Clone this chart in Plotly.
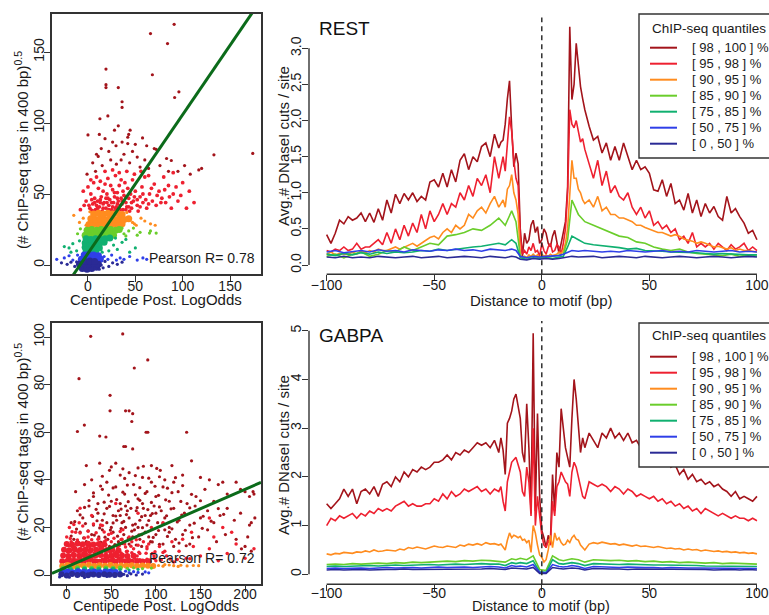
import plotly.graph_objects as go

FONT = "Liberation Sans, Arial, Helvetica, sans-serif"
W, H = 769, 615
TXT = "#1a1a1a"
AX = "#333333"

# ---------------- legend / colours ----------------
QUANT_LABELS = ["[ 98 , 100 ] %", "[ 95 , 98 ] %", "[ 90 , 95 ] %", "[ 85 , 90 ] %",
                "[ 75 , 85 ] %", "[ 50 , 75 ] %", "[ 0 , 50 ] %"]
QUANT_COLORS = ["#A3141B", "#EE2030", "#FF8C1F", "#6ACD2B", "#10B070", "#2F3FE8", "#2A2A95"]
LEGEND_TITLE = "ChIP-seq quantiles"
PANEL_TITLES = ["REST", "GABPA"]
PEARSON = ["Pearson R= 0.78", "Pearson R= 0.72"]

# ---------------- profile x grids ----------------
X_FINE = list(range(-100, -19, 2)) + list(range(-19, 20)) + list(range(20, 101, 2))
X_COARSE = list(range(-100, -19, 4)) + [-17, -14, -12, -10, -7, -4, -1, 2, 5, 8, 10, 12, 14, 17] + list(range(20, 101, 4))

# ---------------- REST profiles ----------------
REST_Q98 = [0.42, 0.30, 0.44, 0.62, 0.57, 0.67, 0.62, 0.65, 0.72, 0.60,
            0.72, 0.59, 0.78, 0.62, 0.90, 0.72, 0.98, 0.85, 0.99, 0.90,
            1.00, 0.88, 0.95, 0.90, 1.15, 1.18, 1.08, 1.27, 1.08, 1.32,
            1.15, 1.45, 1.54, 1.32, 1.50, 1.43, 1.64, 1.69, 1.50, 1.81, 1.62,
            1.70, 1.73, 1.95, 2.30, 2.55, 1.90, 1.36, 1.55, 1.40, 0.50,
            0.12, 0.44, 0.30, 0.35, 0.55, 0.62, 0.45, 0.53, 0.30, 0.35,
            0.50, 0.44, 0.30, 0.25, 0.40, 0.48, 0.30, 0.16, 0.30, 0.48,
            0.60, 1.08, 3.30, 2.29, 2.50, 3.07, 2.80, 2.47, 2.30,
            2.15, 1.92, 1.73, 1.78, 1.55, 1.69, 1.45, 1.64, 1.45, 1.69,
            1.50, 1.32, 1.45, 1.32, 1.36, 1.27, 1.04, 1.02, 1.18, 0.95,
            1.13, 0.85, 0.90, 0.76, 0.99, 0.72, 0.90, 0.67, 0.85, 0.72,
            0.81, 0.67, 0.62, 0.95, 0.72, 0.78, 0.67, 0.58, 0.44, 0.48, 0.35]
REST_Q95 = [0.20, 0.18, 0.22, 0.20, 0.25, 0.20, 0.22, 0.30, 0.22, 0.25,
            0.25, 0.30, 0.35, 0.28, 0.45, 0.30, 0.50, 0.35, 0.55, 0.40,
            0.58, 0.45, 0.70, 0.50, 0.75, 0.60, 0.70, 0.85, 0.70, 0.85,
            0.80, 1.00, 0.90, 1.10, 0.95, 1.20, 1.10, 1.25, 1.00, 1.50, 1.20,
            1.35, 1.50, 1.30, 1.75, 2.05, 1.85, 1.45, 1.20, 1.10, 0.40,
            0.15, 0.20, 0.15, 0.25, 0.20, 0.30, 0.18, 0.20, 0.12, 0.30,
            0.20, 0.15, 0.25, 0.30, 0.18, 0.20, 0.28, 0.25, 0.15, 0.30,
            0.50, 1.00, 2.15, 1.95, 1.90, 2.00, 1.85, 1.70, 1.75,
            1.60, 1.40, 1.20, 1.45, 1.10, 1.30, 1.00, 1.10, 0.95, 0.90,
            1.00, 0.80, 0.70, 0.80, 0.65, 0.75, 0.55, 0.60, 0.50, 0.55,
            0.45, 0.50, 0.35, 0.40, 0.30, 0.45, 0.25, 0.30, 0.25, 0.30,
            0.22, 0.30, 0.25, 0.20, 0.28, 0.22, 0.25, 0.30, 0.20, 0.25, 0.20]
REST_Q90 = [0.15, 0.18, 0.14, 0.16, 0.15, 0.15, 0.18, 0.15, 0.20, 0.17,
            0.20, 0.18, 0.22, 0.20, 0.20, 0.22, 0.25, 0.22, 0.25, 0.28,
            0.30, 0.26, 0.30, 0.35, 0.38, 0.40, 0.36, 0.45, 0.50, 0.45,
            0.55, 0.50, 0.55, 0.70, 0.65, 0.75, 0.80, 0.72, 0.85, 0.95, 0.80,
            0.85, 0.90, 0.80, 1.05, 1.10, 1.25, 1.00, 0.90, 0.70, 0.15,
            0.10, 0.12, 0.10, 0.14, 0.12, 0.15, 0.12, 0.14, 0.10, 0.15,
            0.12, 0.14, 0.12, 0.15, 0.13, 0.14, 0.15, 0.18, 0.16, 0.20,
            0.30, 0.50, 1.00, 1.45, 1.20, 1.20, 1.05, 1.00, 0.90,
            0.85, 0.90, 0.80, 0.95, 0.75, 0.80, 0.70, 0.70, 0.65, 0.65,
            0.62, 0.60, 0.55, 0.55, 0.52, 0.50, 0.48, 0.45, 0.45, 0.42,
            0.40, 0.42, 0.40, 0.36, 0.35, 0.33, 0.30, 0.32, 0.30, 0.28,
            0.25, 0.26, 0.24, 0.22, 0.24, 0.20, 0.22, 0.20, 0.20, 0.19, 0.18]
REST_Q85 = [0.12, 0.15, 0.10, 0.15, 0.18, 0.12, 0.15, 0.20, 0.18, 0.25, 0.20, 0.25, 0.30, 0.28, 0.40, 0.42, 0.45, 0.50, 0.48, 0.55, 0.65,
            0.55, 0.75, 0.60, 0.12, 0.10, 0.12, 0.10, 0.10, 0.12, 0.14, 0.15, 0.35, 0.90, 0.70,
            0.60, 0.55, 0.50, 0.45, 0.40, 0.38, 0.32, 0.30, 0.25, 0.22, 0.20, 0.22, 0.18, 0.16, 0.15, 0.15, 0.13, 0.15, 0.12, 0.14, 0.12]
REST_Q75 = [0.15, 0.13, 0.16, 0.14, 0.17, 0.15, 0.18, 0.16, 0.18, 0.17, 0.18, 0.20, 0.19, 0.22, 0.20, 0.22, 0.24, 0.25, 0.26, 0.28, 0.30,
            0.28, 0.35, 0.30, 0.10, 0.08, 0.10, 0.09, 0.10, 0.09, 0.11, 0.12, 0.25, 0.40, 0.35,
            0.30, 0.28, 0.27, 0.25, 0.24, 0.22, 0.23, 0.20, 0.20, 0.19, 0.18, 0.18, 0.17, 0.17, 0.16, 0.15, 0.16, 0.15, 0.15, 0.14, 0.14]
REST_Q50 = [0.18, 0.20, 0.17, 0.19, 0.20, 0.18, 0.21, 0.19, 0.20, 0.18, 0.21, 0.20, 0.19, 0.21, 0.20, 0.22, 0.20, 0.21, 0.19, 0.22, 0.21,
            0.20, 0.22, 0.20, 0.12, 0.10, 0.12, 0.11, 0.12, 0.12, 0.13, 0.15, 0.18, 0.20, 0.19,
            0.20, 0.19, 0.18, 0.19, 0.18, 0.20, 0.19, 0.18, 0.19, 0.20, 0.18, 0.19, 0.18, 0.20, 0.19, 0.18, 0.19, 0.20, 0.18, 0.19, 0.18]
REST_Q0 = [0.11, 0.10, 0.12, 0.10, 0.11, 0.10, 0.12, 0.11, 0.10, 0.11, 0.12, 0.10, 0.11, 0.12, 0.10, 0.11, 0.12, 0.11, 0.10, 0.12, 0.11,
           0.10, 0.12, 0.11, 0.08, 0.07, 0.09, 0.08, 0.09, 0.08, 0.09, 0.10, 0.11, 0.12, 0.11,
           0.11, 0.12, 0.10, 0.11, 0.12, 0.11, 0.10, 0.12, 0.11, 0.10, 0.11, 0.12, 0.11, 0.10, 0.11, 0.12, 0.11, 0.10, 0.11, 0.12, 0.11]

# ---------------- GABPA profiles ----------------
GABPA_Q98 = [1.45, 1.35, 1.45, 1.55, 1.75, 1.60, 1.75, 1.45, 1.70, 1.75,
             1.65, 1.80, 1.60, 1.85, 1.90, 1.80, 2.00, 1.90, 2.10, 2.00,
             2.15, 2.10, 2.20, 2.15, 2.20, 2.30, 2.30, 2.35, 2.45, 2.35,
             2.50, 2.45, 2.55, 2.50, 2.60, 2.70, 2.65, 2.70, 2.60, 2.75, 2.50,
             2.80, 2.55, 2.05, 3.10, 3.20, 3.35, 3.60, 3.70, 3.40, 3.20,
             2.50, 2.30, 3.50, 2.60, 1.25, 4.95, 1.30, 3.30, 1.60, 0.90,
             0.75, 0.55, 0.80, 0.65, 2.05, 1.30, 2.50, 2.20, 3.40, 3.00,
             2.60, 2.40, 2.20, 3.20, 4.00, 3.60, 3.00, 2.50, 2.80,
             2.60, 2.90, 2.75, 2.60, 2.90, 2.80, 3.00, 2.80, 2.90, 2.75,
             2.90, 2.70, 2.75, 2.60, 2.65, 2.50, 2.45, 2.40, 2.30, 2.35,
             2.20, 2.25, 2.05, 2.15, 1.95, 2.05, 1.90, 1.95, 1.85, 1.90,
             1.80, 1.85, 1.75, 1.70, 1.60, 1.70, 1.55, 1.60, 1.55, 1.50, 1.60]
GABPA_Q95 = [1.00, 1.15, 1.10, 1.20, 1.15, 1.20, 1.25, 1.15, 1.25, 1.20,
             1.30, 1.25, 1.35, 1.30, 1.35, 1.30, 1.40, 1.45, 1.50, 1.40,
             1.45, 1.40, 1.40, 1.45, 1.45, 1.55, 1.50, 1.65, 1.55, 1.70,
             1.60, 1.65, 1.75, 1.70, 1.75, 1.80, 1.70, 1.75, 1.65, 1.75, 1.70,
             1.80, 1.50, 1.30, 1.90, 2.10, 2.30, 2.35, 2.40, 2.25, 2.10,
             1.70, 1.60, 2.20, 1.90, 1.20, 3.00, 1.00, 1.60, 1.20, 0.80,
             0.60, 0.55, 0.70, 0.60, 1.50, 1.20, 1.80, 1.90, 2.10, 2.00,
             1.90, 1.85, 1.60, 2.10, 2.30, 2.20, 2.00, 1.80, 1.60,
             1.55, 1.90, 1.85, 1.80, 1.85, 1.80, 1.70, 1.80, 1.75, 1.65,
             1.75, 1.70, 1.60, 1.65, 1.60, 1.55, 1.60, 1.50, 1.55, 1.45,
             1.50, 1.40, 1.45, 1.35, 1.40, 1.30, 1.35, 1.25, 1.35, 1.30,
             1.25, 1.20, 1.25, 1.20, 1.15, 1.20, 1.15, 1.15, 1.10, 1.15, 1.10]
GABPA_Q90 = [0.42, 0.40, 0.43, 0.42, 0.45, 0.44, 0.43, 0.46, 0.45, 0.48,
             0.46, 0.50, 0.47, 0.48, 0.50, 0.49, 0.48, 0.52, 0.50, 0.55,
             0.53, 0.56, 0.54, 0.52, 0.55, 0.58, 0.56, 0.55, 0.58, 0.57,
             0.55, 0.60, 0.58, 0.62, 0.60, 0.63, 0.60, 0.65, 0.62, 0.63, 0.60,
             0.62, 0.55, 0.50, 0.70, 0.85, 0.75, 0.80, 0.78, 0.75, 0.78,
             0.70, 0.72, 0.65, 0.70, 0.45, 1.00, 0.85, 0.60, 0.40, 0.35,
             0.25, 0.30, 0.50, 0.80, 0.55, 0.85, 0.70, 0.75, 0.65, 0.60,
             0.62, 0.70, 0.65, 0.75, 0.80, 0.72, 0.70, 0.60, 0.55,
             0.50, 0.62, 0.65, 0.63, 0.66, 0.64, 0.62, 0.63, 0.60, 0.62,
             0.60, 0.58, 0.60, 0.57, 0.58, 0.56, 0.55, 0.57, 0.55, 0.53,
             0.54, 0.52, 0.53, 0.50, 0.52, 0.50, 0.51, 0.48, 0.50, 0.48,
             0.47, 0.48, 0.46, 0.47, 0.45, 0.46, 0.44, 0.45, 0.43, 0.44, 0.42]
GABPA_Q85 = [0.20, 0.21, 0.20, 0.22, 0.21, 0.22, 0.23, 0.22, 0.24, 0.23, 0.25, 0.24, 0.25, 0.26, 0.27, 0.26, 0.28, 0.27, 0.29, 0.28, 0.27,
             0.25, 0.32, 0.30, 0.33, 0.30, 0.38, 0.10, 0.08, 0.38, 0.30, 0.28, 0.30, 0.32, 0.30,
             0.25, 0.30, 0.29, 0.28, 0.29, 0.27, 0.28, 0.26, 0.27, 0.25, 0.26, 0.24, 0.25, 0.24, 0.23, 0.24, 0.22, 0.23, 0.22, 0.21, 0.21]
GABPA_Q75 = [0.16, 0.17, 0.16, 0.17, 0.17, 0.18, 0.17, 0.18, 0.19, 0.18, 0.19, 0.19, 0.20, 0.19, 0.20, 0.21, 0.20, 0.21, 0.22, 0.21, 0.21,
             0.18, 0.24, 0.22, 0.24, 0.22, 0.28, 0.05, 0.04, 0.30, 0.22, 0.21, 0.22, 0.24, 0.22,
             0.18, 0.22, 0.21, 0.21, 0.20, 0.21, 0.20, 0.20, 0.19, 0.19, 0.19, 0.18, 0.18, 0.18, 0.17, 0.17, 0.17, 0.16, 0.17, 0.16, 0.16]
GABPA_Q50 = [0.12, 0.13, 0.12, 0.13, 0.13, 0.12, 0.13, 0.14, 0.13, 0.14, 0.14, 0.13, 0.14, 0.15, 0.14, 0.15, 0.15, 0.14, 0.15, 0.16, 0.15,
             0.13, 0.18, 0.16, 0.17, 0.15, 0.20, 0.04, 0.03, 0.20, 0.16, 0.15, 0.16, 0.18, 0.16,
             0.12, 0.16, 0.15, 0.15, 0.14, 0.15, 0.14, 0.14, 0.14, 0.13, 0.14, 0.13, 0.13, 0.13, 0.13, 0.12, 0.13, 0.12, 0.12, 0.12, 0.12]
GABPA_Q0 = [0.09, 0.10, 0.09, 0.10, 0.10, 0.09, 0.10, 0.10, 0.10, 0.11, 0.10, 0.10, 0.11, 0.10, 0.11, 0.11, 0.10, 0.11, 0.11, 0.12, 0.11,
            0.10, 0.13, 0.12, 0.12, 0.11, 0.14, 0.02, 0.02, 0.14, 0.12, 0.11, 0.12, 0.13, 0.12,
            0.09, 0.12, 0.11, 0.11, 0.11, 0.10, 0.11, 0.11, 0.10, 0.10, 0.11, 0.10, 0.10, 0.10, 0.10, 0.09, 0.10, 0.10, 0.09, 0.10, 0.09]

# ---------------- REST scatter (Centipede log-odds vs sqrt ChIP tags) ----------------
REST_FIT = (8.2, 0.977)  # intercept, slope
REST_SC_Q98_X = [91, 66, 84, 19, 68, 19, 19, 32, 96, 91.5, 36, 36, 21, 12.6, 32, 0, 12, 44.5, 43, 42,
                 57.6, 18, 26, 36, 29.6, 42, 9, 10.8, 133, 174, 70, 72, 117, 120, 83, 88, 47, 52, 38, 24,
                 30, 15, 5, 60, 76, 95, 102, 64, 44, 55, 22, -1, 8, 35, 50, 62, 28, 14, 85, 108]
REST_SC_Q98_Y = [169.5, 163, 156, 138, 134, 127, 125, 125, 122, 118, 115, 111, 105, 103, 98, 91.6, 92, 95, 92, 90,
                 89.5, 89, 86.6, 86.6, 84, 85.5, 78, 76.5, 77.6, 78.6, 82, 81.5, 67, 68, 75, 73.6, 80, 76, 78, 74,
                 71, 70, 72, 74, 70, 66, 70, 68, 72, 69, 80, 64, 66, 74, 85, 84, 95, 82, 66, 64]
REST_SC_Q95_X = [2, 5, 8, 10, 12, 14, 15, 17, 19, 20, 22, 23, 25, 26, 27, 28, 30, 31, 32, 33,
                 34, 35, 36, 37, 38, 39, 40, 41, 42, 43, 45, 46, 47, 48, 50, 52, 55, 57, 58, 60,
                 62, 65, 68, 70, 72, 75, 78, 80, 82, 85, 88, 90, 95, 100, -2, -5, 0, 3, 6, 9,
                 11, 13, 16, 18, 21, 24, 29, 35, 3, 7, 11, 24, 29, 37, 44, 53, -8, -4, 18, 26,
                 33, 41, 49, 56, 64, 90, 104, 112, 4, 9, 13, 16, 21, 26, 31, 36, 40, 20, 28, 6,
                 1, 4, 7, 10, 13, 16, 19, 22, 25, 28, 31, 34, 37, 40, 43, 46, 49, 52, 55, 58,
                 61, 64, 67, 73, 77, 81, 86, 93, 98, 107]
REST_SC_Q95_Y = [40, 43, 39, 45, 41, 48, 38, 44, 40, 50, 42, 46, 39, 53, 44, 48, 41, 51, 45, 56,
                 39, 47, 43, 52, 49, 58, 44, 41, 54, 47, 50, 40, 60, 45, 52, 42, 48, 55, 44, 62,
                 40, 50, 45, 57, 42, 52, 47, 62, 44, 56, 40, 50, 45, 58, 45, 52, 55, 50, 58, 62,
                 54, 59, 52, 57, 61, 56, 63, 60, 60, 47, 38, 38, 40, 39, 38, 38, 39, 42, 66, 67,
                 65, 66, 64, 66, 63, 65, 40, 44, 46, 42, 44, 40, 47, 41, 43, 45, 39, 44, 38, 38,
                 42, 38.5, 44, 40, 46, 43, 47, 39, 44, 51, 47, 42, 45, 48, 41, 44, 48, 46, 41, 50,
                 46, 43, 54, 49, 44, 53, 48, 55, 49, 52]
REST_SC_Q90_CORE_X = [1, 6, 11, 16, 21, 26, 31, 36, 3, 8, 13, 18, 23, 28, 33, 38, 43, 6, 11, 16, 21, 26, 31, 36]
REST_SC_Q90_CORE_Y = [28.5, 29, 28.5, 29, 28.5, 29, 28.5, 29, 32.5, 32, 32.5, 32, 32.5, 32, 32.5, 32, 32.5,
                      36, 36.5, 36, 36.5, 36, 36.5, 35.5]
REST_SC_Q90_X = [-15, -9, -5, 47, 51, 56, 60, 66, 71, 2, 41, -2, 49]
REST_SC_Q90_Y = [35, 30, 33, 30, 28, 33, 31, 29, 28, 37.5, 37, 28, 29]
REST_SC_Q85_CORE_X = [-3, 2, 7, 12, 17, 22, 27, -1, 4, 9, 14, 19, 24, 29, 33]
REST_SC_Q85_CORE_Y = [21, 21.5, 21, 21.5, 21, 21.5, 21, 24.5, 25, 24.5, 25, 24.5, 25, 24.5, 25]
REST_SC_Q85_X = [-11, -8, 38, 43, 48, 55, 65, 72, 36, 52, 66, 40]
REST_SC_Q85_Y = [22, 25.5, 22, 24, 26, 23, 22.5, 22.5, 26, 21, 24, 20.5]
REST_SC_Q75_CORE_X = [-2, 3, 8, -3, 2, 7, 12, -3, 2, 7, 12, 17, -2, 3, 8, 13, 18, 23]
REST_SC_Q75_CORE_Y = [9.5, 9, 9.5, 12.5, 12, 12.5, 12, 15.5, 15, 15.5, 15, 16, 18.5, 18, 18.5, 18, 18.5, 19]
REST_SC_Q75_X = [-25, -20, -16, -12, -9, 27, 31, 36, 44, 22, 50, -18, 40, 15, 29]
REST_SC_Q75_Y = [13, 12, 15, 10, 17, 14, 11, 16, 9, 10, 12, 9, 18, 9, 19]
REST_SC_Q50_CORE_X = [-7, -2, 3, 8, 13, -4, 1, 6, 11]
REST_SC_Q50_CORE_Y = [4, 4.5, 4, 4.5, 4, 7, 7.5, 7, 6.5]
REST_SC_Q50_X = [-33, -25, -20, -16, 17, 21, 25, 30, 34, 38, 44, 52, 58, 62, -11, 15]
REST_SC_Q50_Y = [4, 5, 6.5, 3.5, 6, 4, 7, 3.5, 5, 4, 6, 3.5, 5, 4, 7, 5]
REST_SC_Q0_CORE_X = [-6, -1, 4, 9, -9, -4, 1, 6, 11, -3, 2, 7]
REST_SC_Q0_CORE_Y = [-2.5, -3, -2.5, -1.5, 0.5, 1, 0.5, 1, 0.5, 2.5, 2.8, 2.5]
REST_SC_Q0_X = [-28, -22, -18, -14, 14, 18, 22, 26, 31, 36, -12, 16, 12]
REST_SC_Q0_Y = [1.5, 0.5, 2, -1, 0, 2.5, -1, 1.5, 0.5, 2, 2.2, -2, -3]

# ---------------- GABPA scatter ----------------
GABPA_FIT = (3.4, 0.163)
GABPA_SC_Q98_X = [26.9, 62.8, 90.9, 13.8, 75.8, 48.6, 48.6, 66, 70, 74, 73, 19.8, 12, 89, 91, 134.5, 37, 44, 64, 66, 74,
                  37, 22, 55, 80, 95, 105, 118, 140, 150, 160, 170, 175, 190, 48, 60, 85, 110, 130, 28, 70,
                  10, 20, 30, 40, 50, 55, 65, 75, 80, 90, 100, 108, 115, 125, 135, 145, 155, 165, 180, 195,
                  200, 205, 209, 210, 45, 85, 120, 60, 95, 35,
                  5, 12, 18, 25, 30, 35, 40, 45, 50, 52, 58, 62, 66, 70, 74, 78, 82, 86, 90, 94,
                  98, 102, 106, 110, 115, 120, 126, 132, 138, 144, 150, 158, 165, 172, 180, 188, 195, 205, 211, 207,
                  60, 72, 88, 45, 100, 56, 80, 68,
                  8, 15, 22, 28, 34, 40, 46, 52, 58, 64, 70, 76, 82, 88, 94, 100, 108, 115, 122, 130,
                  138, 148, 158, 168, 178, 190, 200, 203, 207, 196, 48, 66, 84, 110, 36, 92, 74, 120,
                  14, 26, 38, 54, 62, 78, 96, 104, 126, 134,
                  5, 19, 31, 43, 57, 69, 81, 97, 113, 141,
                  11, 24, 37, 49, 61, 73, 85, 103, 118, 133, 152,
                  9, 21, 34, 52, 64, 77, 92, 108, 124, 143, 162,
                  15, 29, 42, 55, 67, 84, 96, 112, 129, 153, 176,
                  20, 33, 48, 61, 79, 91, 104, 117, 138, 170,
                  25, 42, 56, 69, 82, 95, 111, 128, 150,
                  30, 47, 63, 77, 88, 103, 118, 140,
                  38, 52, 68, 82, 99, 113, 130,
                  40, 65, 77, 92, 104, 122,
                  50, 63, 86, 101]
GABPA_SC_Q98_Y = [100.3, 101.3, 90.4, 82.5, 87, 75.5, 69, 69, 69, 67.8, 64.5, 63, 60.3, 60, 60, 60, 58.4, 58, 54, 54, 53,
                  47, 46, 47, 45, 46, 44, 46, 48, 41, 40, 38, 39, 39, 44, 42, 41, 40, 42, 40, 43,
                  35, 38, 33, 36, 31, 37, 34, 38, 32, 35, 33, 37, 31, 35, 30, 33, 36, 31, 34, 36,
                  35, 33, 35, 34, 39, 30, 39, 30, 39, 30,
                  22, 27, 24, 29, 21, 26, 23, 28, 20, 25, 27, 22, 29, 24, 21, 27, 23, 28, 21, 25,
                  29, 22, 27, 24, 20, 28, 23, 26, 21, 29, 24, 27, 22, 25, 28, 23, 26, 21, 24, 22,
                  25, 28, 25, 22, 26, 23, 20, 27,
                  15, 18, 14, 17, 13, 19, 15, 18, 14, 17, 13, 19, 15, 18, 14, 17, 13, 18, 15, 17,
                  13, 16, 19, 14, 17, 15, 12, 16, 10, 11, 12, 20, 12, 19, 16, 16, 16, 12,
                  13.5, 12.5, 13.8, 12.8, 13.2, 12.6, 13.9, 12.9, 13.4, 12.3,
                  16.4, 15.6, 16.8, 15.9, 16.3, 15.5, 16.9, 15.8, 16.2, 15.7,
                  19.3, 18.6, 19.8, 18.9, 19.5, 18.4, 19.9, 18.7, 19.4, 18.8, 19.6,
                  22.4, 21.6, 22.8, 21.9, 22.5, 21.4, 22.9, 21.7, 22.3, 21.8, 22.6,
                  25.3, 24.6, 25.7, 24.8, 25.4, 24.5, 25.8, 24.9, 25.2, 24.7, 25.5,
                  28.4, 27.6, 28.8, 27.7, 28.3, 27.5, 28.6, 27.8, 28.2, 27.9,
                  31.3, 30.6, 31.7, 30.8, 31.4, 30.5, 31.6, 30.9, 31.2,
                  34.5, 33.6, 34.8, 33.7, 34.3, 33.5, 34.6, 33.9,
                  37.4, 36.6, 37.8, 36.7, 37.3, 36.5, 37.6,
                  41.5, 40.6, 41.8, 40.7, 41.3, 40.9,
                  45.4, 44.6, 45.7, 44.8]
GABPA_SC_Q95_CORE_X = [-5, 1, 7, 13, 19, 25, 31, 37, 43, 49, 55, 61, 67, 73, 79, 85, 92,
                       -4, 2, 8, 14, 20, 26, 32, 38, 44, 50, 56, 62, 68, 75,
                       -3, 3, 9, 15, 21, 27, 33, 39, 45, 51, 58,
                       0, 6, 12, 18, 24, 30, 36, 42]
GABPA_SC_Q95_CORE_Y = [5.8, 6.0, 5.6, 5.9, 5.7, 6.1, 5.8, 5.6, 6.0, 5.8, 5.7, 6.0, 5.8, 5.6, 5.9, 5.7, 5.8,
                       8.2, 8.0, 8.4, 8.1, 8.3, 8.0, 8.2, 8.4, 8.1, 8.0, 8.3, 8.2, 8.0, 8.1,
                       10.6, 10.4, 10.8, 10.5, 10.7, 10.4, 10.6, 10.8, 10.5, 10.6, 10.4,
                       13.0, 12.8, 13.2, 12.9, 13.1, 12.8, 13.0, 12.9]
GABPA_SC_Q95_X = [0, 3, 6, 10, 14, 18, 24, 28, 32, 38, 42, 47, 53, 57, 63, 68, 73, 79, 84, 90,
                  96, 104, 112, 118, 126, 134, 142, 150, 160, 170, 180, 190, 200, 210, 15, 55, 80, 108, 140, 160,
                  175, 30, 60, 100, 120, 88, 45, 20, 12, 70, 95, 130, 165, 185,
                  5, 16, 22, 35, 40, 50, 58, 65, 75, 82, 92, 98, 110, 26, 48, 62, 86, 8, 34, 52,
                  4, 10, 16, 22, 28, 34, 40, 46, 52, 58, 64, 70, 76, 82, 90, 98, 106, 116, 124, 138,
                  1, 7, 13, 19, 25, 31, 37, 43, 49, 55, 61, 67, 73, 81, 89, 99, 108,
                  2, 9, 16, 23, 30, 37, 44, 51, 59, 66, 72, 80, 90,
                  4, 12, 20, 28, 36, 44, 53, 61, 70, 78,
                  6, 15, 24, 33, 42, 50, 60,
                  8, 18, 30, 40]
GABPA_SC_Q95_Y = [16, 20, 12, 18, 22, 9, 16, 25, 11, 21, 14, 17, 9, 12, 19, 10, 14, 8, 17, 11,
                  9, 12, 8, 14, 10, 7, 12, 8, 11, 6, 9, 13, 7, 11, 28, 30, 26, 22, 18, 24,
                  20, 6, 7, 6, 5.5, 6, 8, 13, 10, 16, 20, 15, 16, 18,
                  14, 11, 9, 15, 12, 14, 10, 13, 11, 9, 13, 8, 10, 12, 10, 15, 14, 7, 8, 7,
                  6.8, 6.3, 7.0, 6.4, 6.9, 6.2, 6.7, 7.1, 6.5, 6.9, 6.3, 6.8, 7.0, 6.4, 6.6, 6.9, 6.3, 6.7, 6.5, 6.8,
                  9.7, 9.2, 9.9, 9.4, 9.8, 9.1, 9.6, 10.0, 9.3, 9.7, 9.2, 9.9, 9.4, 9.6, 9.1, 9.8, 9.5,
                  12.3, 11.8, 12.5, 11.6, 12.2, 11.9, 12.6, 11.7, 12.4, 11.8, 12.1, 12.5, 11.9,
                  15.3, 14.7, 15.5, 14.8, 15.2, 14.6, 15.4, 14.9, 15.1, 14.8,
                  18.2, 17.6, 18.4, 17.8, 18.1, 17.5, 18.3,
                  21.2, 20.6, 21.4, 20.8]
GABPA_SC_Q90_CORE_X = [-5, 1, 7, 13, 19, 25, 31, 37, 43, 49, 55, 61, 67, 73, 79, 85, 91, 97]
GABPA_SC_Q90_CORE_Y = [3.8, 4.2, 3.7, 4.1, 3.9, 4.3, 3.8, 4.1, 3.9, 4.2, 3.8, 4.0, 3.9, 4.1, 3.8, 4.0, 3.9, 3.8]
GABPA_SC_Q90_X = [103, 108, 115, 120, 128, 135, 142, 148, 110, 125]
GABPA_SC_Q90_Y = [4.0, 3.7, 4.2, 3.9, 4.1, 3.8, 4.0, 3.9, 4.4, 3.6]
GABPA_SC_Q85_CORE_X = [-4, 4, 12, 20, 28, 36, 44, 52, 60]
GABPA_SC_Q85_CORE_Y = [2.9, 2.8, 3.0, 2.9, 2.8, 3.0, 2.9, 2.8, 2.9]
GABPA_SC_Q85_X = [68, 75, 85, 95]
GABPA_SC_Q85_Y = [2.8, 3.0, 2.7, 2.9]
GABPA_SC_Q75_CORE_X = [-4, 4, 12, 20, 28, 36, 44, 52]
GABPA_SC_Q75_CORE_Y = [2.2, 2.3, 2.2, 2.4, 2.2, 2.3, 2.2, 2.3]
GABPA_SC_Q75_X = [60, 70, 80]
GABPA_SC_Q75_Y = [2.3, 2.1, 2.4]
GABPA_SC_Q50_CORE_X = [-5, 1, 7, 13, 19, 25, 31, 37, 43, 49, 55]
GABPA_SC_Q50_CORE_Y = [1.3, 1.5, 1.2, 1.6, 1.4, 1.3, 1.5, 1.2, 1.4, 1.5, 1.3]
GABPA_SC_Q50_X = [60, 66, 70, 75, 80, 88, 92]
GABPA_SC_Q50_Y = [1.2, 1.6, 1.0, 1.4, 1.1, 1.3, 0.9]
GABPA_SC_Q0_CORE_X = [-6, 0, 6, 12, 18, 24, 30, 36, 42, 48, 54, 60]
GABPA_SC_Q0_CORE_Y = [0.3, -0.2, 0.4, 0.0, 0.3, -0.1, 0.2, 0.0, 0.3, 0.1, 0.0, 0.2]
GABPA_SC_Q0_X = [64, 68, 72, 78, 85, -8, 20, 45, 3, 27]
GABPA_SC_Q0_Y = [0.3, -0.3, 0.5, 0.0, 0.4, -0.8, -1.0, -0.6, -0.9, 0.8]

# sanity checks
for arr in [REST_Q98, REST_Q95, REST_Q90, GABPA_Q98, GABPA_Q95, GABPA_Q90]:
    assert len(arr) == len(X_FINE), len(arr)
for arr in [REST_Q85, REST_Q75, REST_Q50, REST_Q0, GABPA_Q85, GABPA_Q75, GABPA_Q50, GABPA_Q0]:
    assert len(arr) == len(X_COARSE), len(arr)
pairs = [(REST_SC_Q98_X, REST_SC_Q98_Y), (REST_SC_Q95_X, REST_SC_Q95_Y), (GABPA_SC_Q98_X, GABPA_SC_Q98_Y),
         (GABPA_SC_Q95_X, GABPA_SC_Q95_Y), (GABPA_SC_Q95_CORE_X, GABPA_SC_Q95_CORE_Y),
         (REST_SC_Q90_CORE_X, REST_SC_Q90_CORE_Y), (REST_SC_Q75_CORE_X, REST_SC_Q75_CORE_Y)]
for a, b in pairs:
    assert len(a) == len(b), (len(a), len(b))


def px(x):
    return x / W


def py(y):
    return 1 - y / H


fig = go.Figure()

SPARSE = 3.2
CORE_TOP = 7
CORE_BOT = 6


def add_pts(xs, ys, color, size, xa, ya):
    fig.add_trace(go.Scatter(x=xs, y=ys, mode="markers", xaxis=xa, yaxis=ya,
                             marker=dict(color=color, size=size, line=dict(width=0)),
                             showlegend=False, hoverinfo="skip"))


C = QUANT_COLORS
# REST scatter (x, y)
add_pts(REST_SC_Q98_X, REST_SC_Q98_Y, C[0], SPARSE, "x", "y")
add_pts(REST_SC_Q95_X, REST_SC_Q95_Y, C[1], SPARSE + 0.6, "x", "y")
add_pts(REST_SC_Q90_CORE_X, REST_SC_Q90_CORE_Y, C[2], CORE_TOP, "x", "y")
add_pts(REST_SC_Q90_X, REST_SC_Q90_Y, C[2], SPARSE, "x", "y")
add_pts(REST_SC_Q85_CORE_X, REST_SC_Q85_CORE_Y, C[3], CORE_TOP, "x", "y")
add_pts(REST_SC_Q85_X, REST_SC_Q85_Y, C[3], SPARSE, "x", "y")
add_pts(REST_SC_Q75_CORE_X, REST_SC_Q75_CORE_Y, C[4], CORE_TOP, "x", "y")
add_pts(REST_SC_Q75_X, REST_SC_Q75_Y, C[4], SPARSE, "x", "y")
add_pts(REST_SC_Q50_CORE_X, REST_SC_Q50_CORE_Y, C[5], CORE_TOP, "x", "y")
add_pts(REST_SC_Q50_X, REST_SC_Q50_Y, C[5], SPARSE, "x", "y")
add_pts(REST_SC_Q0_CORE_X, REST_SC_Q0_CORE_Y, C[6], CORE_TOP, "x", "y")
add_pts(REST_SC_Q0_X, REST_SC_Q0_Y, C[6], SPARSE, "x", "y")

# GABPA scatter (x3, y3)
add_pts(GABPA_SC_Q98_X, GABPA_SC_Q98_Y, C[0], SPARSE, "x3", "y3")
add_pts(GABPA_SC_Q95_CORE_X, GABPA_SC_Q95_CORE_Y, C[1], CORE_BOT, "x3", "y3")
add_pts(GABPA_SC_Q95_X, GABPA_SC_Q95_Y, C[1], SPARSE + 0.3, "x3", "y3")
add_pts(GABPA_SC_Q90_CORE_X, GABPA_SC_Q90_CORE_Y, C[2], CORE_BOT, "x3", "y3")
add_pts(GABPA_SC_Q90_X, GABPA_SC_Q90_Y, C[2], SPARSE, "x3", "y3")
add_pts(GABPA_SC_Q85_CORE_X, GABPA_SC_Q85_CORE_Y, C[3], CORE_BOT - 1, "x3", "y3")
add_pts(GABPA_SC_Q85_X, GABPA_SC_Q85_Y, C[3], SPARSE, "x3", "y3")
add_pts(GABPA_SC_Q75_CORE_X, GABPA_SC_Q75_CORE_Y, C[4], CORE_BOT - 1, "x3", "y3")
add_pts(GABPA_SC_Q75_X, GABPA_SC_Q75_Y, C[4], SPARSE, "x3", "y3")
add_pts(GABPA_SC_Q50_CORE_X, GABPA_SC_Q50_CORE_Y, C[5], CORE_BOT, "x3", "y3")
add_pts(GABPA_SC_Q50_X, GABPA_SC_Q50_Y, C[5], SPARSE, "x3", "y3")
add_pts(GABPA_SC_Q0_CORE_X, GABPA_SC_Q0_CORE_Y, C[6], CORE_BOT, "x3", "y3")
add_pts(GABPA_SC_Q0_X, GABPA_SC_Q0_Y, C[6], SPARSE, "x3", "y3")

# regression lines
REST_XRANGE = [-38.0, 182.7]
GABPA_XRANGE = [-16.5, 217.9]
for (a, b), xr, xa, ya in [(REST_FIT, REST_XRANGE, "x", "y"), (GABPA_FIT, GABPA_XRANGE, "x3", "y3")]:
    fig.add_trace(go.Scatter(x=xr, y=[a + b * v for v in xr], mode="lines", xaxis=xa, yaxis=ya,
                             line=dict(color="#0B6B1A", width=3), showlegend=False, hoverinfo="skip"))

# ---------- profile panels ----------
REST_LINES = [REST_Q98, REST_Q95, REST_Q90, REST_Q85, REST_Q75, REST_Q50, REST_Q0]
GABPA_LINES = [GABPA_Q98, GABPA_Q95, GABPA_Q90, GABPA_Q85, GABPA_Q75, GABPA_Q50, GABPA_Q0]
for lines, xa, ya in [(REST_LINES, "x2", "y2"), (GABPA_LINES, "x4", "y4")]:
    for i, vals in enumerate(lines):
        xs = X_FINE if len(vals) == len(X_FINE) else X_COARSE
        fig.add_trace(go.Scatter(x=xs, y=vals, mode="lines", xaxis=xa, yaxis=ya,
                                 line=dict(color=C[i], width=1.6), showlegend=False, hoverinfo="skip"))

# ---------- axes ----------
tickfont = dict(family=FONT, size=14, color=TXT)
common = dict(ticks="outside", ticklen=6, tickwidth=1.3, tickcolor=AX, showgrid=False,
              zeroline=False, tickfont=tickfont)
box = dict(showline=True, mirror=True, linecolor=AX, linewidth=1.5, **common)
open_ax = dict(showline=False, **common)
XSTAND = -8
XSTAND_BOT = -10
YSTAND = -5

SC_X_DOM = [px(52), px(261)]
PR_X_DOM = [px(309), 1.0]

fig.update_layout(
    width=W, height=H, margin=dict(l=0, r=0, t=0, b=0),
    paper_bgcolor="white", plot_bgcolor="white",
    font=dict(family=FONT, color=TXT),
    xaxis=dict(domain=SC_X_DOM, range=REST_XRANGE, anchor="y", tickvals=[0, 50, 100, 150],
               ticklabelstandoff=XSTAND, **box),
    yaxis=dict(domain=[py(274), py(14)], range=[-6.34, 176.8], anchor="x", tickvals=[0, 50, 100, 150],
               tickangle=-90, ticklabelstandoff=YSTAND, **box),
    xaxis3=dict(domain=SC_X_DOM, range=GABPA_XRANGE, anchor="y3", tickvals=[0, 50, 100, 150, 200],
                ticklabelstandoff=XSTAND_BOT, **box),
    yaxis3=dict(domain=[py(584), py(323)], range=[-3.78, 105.9], anchor="x3",
                tickvals=[0, 20, 40, 60, 80, 100], tickangle=-90, ticklabelstandoff=YSTAND, **box),
    xaxis2=dict(domain=PR_X_DOM, range=[-108.2, 105.6], anchor="y2", tickvals=[-100, -50, 0, 50, 100],
                ticklabelstandoff=XSTAND, **open_ax),
    yaxis2=dict(domain=[py(274.3), py(17.4)], range=[-0.1288, 3.428], anchor="x2",
                tickvals=[0, 0.5, 1, 1.5, 2, 2.5, 3], tickformat=".1f", tickangle=-90,
                ticklabelstandoff=YSTAND, **open_ax),
    xaxis4=dict(domain=PR_X_DOM, range=[-108.2, 105.6], anchor="y4", tickvals=[-100, -50, 0, 50, 100],
                ticklabelstandoff=XSTAND_BOT, **open_ax),
    yaxis4=dict(domain=[py(584.3), py(321)], range=[-0.205, 5.2], anchor="x4",
                tickvals=[0, 1, 2, 3, 4, 5], tickangle=-90, ticklabelstandoff=YSTAND, **open_ax),
)

shapes = []
annos = []
axline = dict(color=AX, width=1.4)
for xa, ya, ytop in [("x2", "y2", 3.0), ("x4", "y4", 5.0)]:
    shapes.append(dict(type="line", xref=xa + " domain", yref=ya, x0=0, x1=0, y0=0, y1=ytop, line=axline))
    shapes.append(dict(type="line", xref=xa, yref=ya + " domain", x0=-100, x1=100, y0=0, y1=0, line=axline))
    shapes.append(dict(type="line", xref=xa, yref=ya + " domain", x0=0, x1=0, y0=0, y1=1,
                       line=dict(color="#222222", width=1.4, dash="5px,4px")))

# manual legends
for top, bottom, title_y, row0 in [(14, 158, 28.5, 47.7), (323, 467, 335.5, 356.7)]:
    shapes.append(dict(type="rect", xref="paper", yref="paper", x0=px(639), x1=px(785),
                       y0=py(bottom), y1=py(top), line=dict(color=AX, width=1.4), fillcolor="white"))
    annos.append(dict(xref="paper", yref="paper", x=px(709), y=py(title_y), text=LEGEND_TITLE,
                      showarrow=False, xanchor="center", yanchor="middle",
                      font=dict(family=FONT, size=13.5, color=TXT)))
    for i, lab in enumerate(QUANT_LABELS):
        yy = row0 + 16 * i
        shapes.append(dict(type="line", xref="paper", yref="paper", x0=px(650), x1=px(677),
                           y0=py(yy), y1=py(yy), line=dict(color=C[i], width=2)))
        annos.append(dict(xref="paper", yref="paper", x=px(690), y=py(yy), text=lab, showarrow=False,
                          xanchor="left", yanchor="middle", font=dict(family=FONT, size=13, color=TXT)))

# panel titles
annos.append(dict(xref="paper", yref="paper", x=px(317), y=py(28.5), text=PANEL_TITLES[0], showarrow=False,
                  xanchor="left", yanchor="middle", font=dict(family=FONT, size=19, color="#111")))
annos.append(dict(xref="paper", yref="paper", x=px(317), y=py(335), text=PANEL_TITLES[1], showarrow=False,
                  xanchor="left", yanchor="middle", font=dict(family=FONT, size=19, color="#111")))

# axis titles
tfont = dict(family=FONT, size=15, color=TXT)
bfont = dict(family=FONT, size=14.5, color=TXT)
ytitle_sc = "(# ChIP-seq tags in 400 bp)<sup>0.5</sup>"
annos += [
    dict(xref="paper", yref="paper", x=px(21), y=py(150), text=ytitle_sc, textangle=-90, showarrow=False,
         xanchor="center", yanchor="middle", font=tfont),
    dict(xref="paper", yref="paper", x=px(21), y=py(442), text=ytitle_sc, textangle=-90, showarrow=False,
         xanchor="center", yanchor="middle", font=tfont),
    dict(xref="paper", yref="paper", x=px(156), y=py(299), text="Centipede Post. LogOdds", showarrow=False,
         xanchor="center", yanchor="middle", font=tfont),
    dict(xref="paper", yref="paper", x=px(156), y=0, text="Centipede Post. LogOdds", showarrow=False,
         xanchor="center", yanchor="bottom", font=bfont, borderpad=0),
    dict(xref="paper", yref="paper", x=px(283), y=py(146), text="Avg.# DNaseI cuts / site", textangle=-90,
         showarrow=False, xanchor="center", yanchor="middle", font=tfont),
    dict(xref="paper", yref="paper", x=px(283), y=py(455), text="Avg.# DNaseI cuts / site", textangle=-90,
         showarrow=False, xanchor="center", yanchor="middle", font=tfont),
    dict(xref="paper", yref="paper", x=px(541), y=py(300), text="Distance to motif (bp)", showarrow=False,
         xanchor="center", yanchor="middle", font=tfont),
    dict(xref="paper", yref="paper", x=px(541), y=0, text="Distance to motif (bp)", showarrow=False,
         xanchor="center", yanchor="bottom", font=bfont, borderpad=0),
    dict(xref="paper", yref="paper", x=px(202), y=py(258), text=PEARSON[0], showarrow=False,
         xanchor="center", yanchor="middle", font=dict(family=FONT, size=14, color=TXT)),
    dict(xref="paper", yref="paper", x=px(202), y=py(558), text=PEARSON[1], showarrow=False,
         xanchor="center", yanchor="middle", font=dict(family=FONT, size=14, color=TXT)),
]

fig.update_layout(shapes=shapes, annotations=annos)

fig.write_html("out.html", post_script="document.body.style.margin='0px';",
               config={"displayModeBar": False})
